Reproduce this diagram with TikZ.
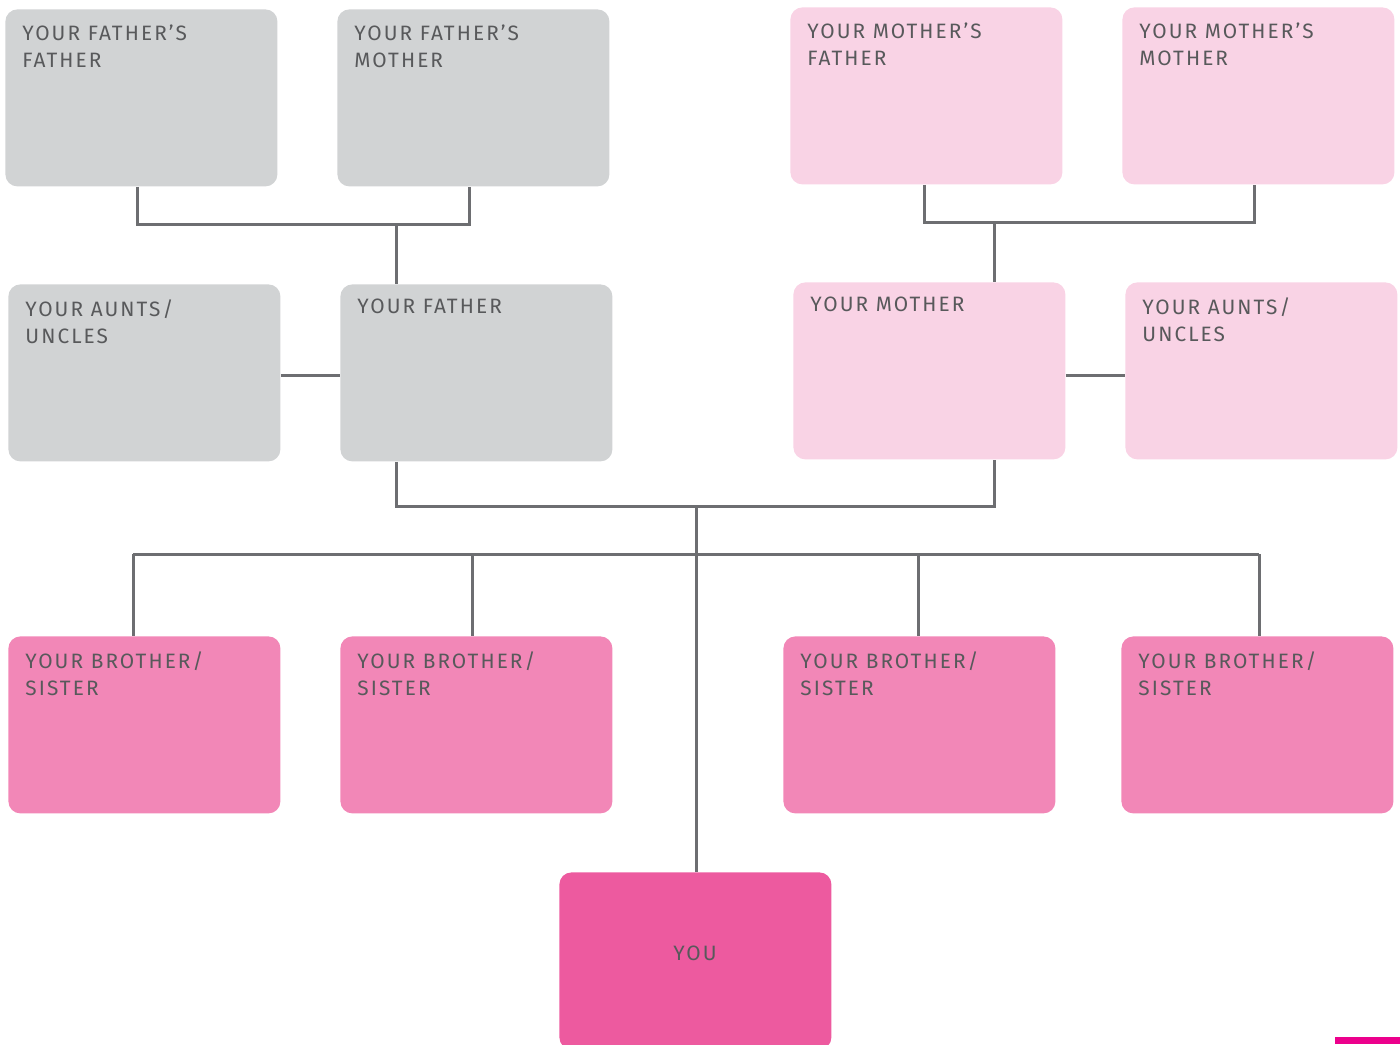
\documentclass[tikz,border=0pt]{standalone}
\usepackage{fontspec}
\setmainfont{Fira Sans}[LetterSpace=10]
\usepackage{tikz}

\definecolor{boxgrey}{HTML}{D1D3D4}
\definecolor{boxlight}{HTML}{F9D3E5}
\definecolor{boxmid}{HTML}{F287B7}
\definecolor{boxyou}{HTML}{ED5A9F}
\definecolor{barpink}{HTML}{EC008C}
\definecolor{linegrey}{HTML}{6D6E71}
\definecolor{textgrey}{HTML}{58595B}

\begin{document}
\begin{tikzpicture}[x=0.5pt,y=-0.5pt,
    famcard/.style={rectangle,rounded corners=6pt,minimum width=136pt,minimum height=88.5pt,anchor=north west,inner sep=0pt},
    greycard/.style={famcard,fill=boxgrey},
    lightcard/.style={famcard,fill=boxlight},
    midcard/.style={famcard,fill=boxmid},
    youcard/.style={famcard,fill=boxyou},
    lbl/.style={anchor=north west,inner sep=0pt,align=left,text=textgrey,font=\fontsize{10.4}{13.5}\selectfont},
    link/.style={draw=linegrey,line width=1.5pt}]
    \useasboundingbox (0,0) rectangle (1400,1044);
    \clip (0,0) rectangle (1400,1044);
    %grandparents
    \node[greycard] (ff) at (5,9) {};
    \node[greycard] (fm) at (337,9) {};
    \node[lightcard] (mf) at (790,7) {};
    \node[lightcard] (mm) at (1122,7) {};
    \node[lbl] (ff-t) at ([shift={(17,15)}]ff.north west) {YOUR FATHER’S\\FATHER};
    \node[lbl] (fm-t) at ([shift={(17,15)}]fm.north west) {YOUR FATHER’S\\MOTHER};
    \node[lbl] (mf-t) at ([shift={(17,15)}]mf.north west) {YOUR MOTHER’S\\FATHER};
    \node[lbl] (mm-t) at ([shift={(17,15)}]mm.north west) {YOUR MOTHER’S\\MOTHER};
    %parents and aunts/uncles
    \node[greycard] (au1) at (8,284) {};
    \node[greycard] (fa) at (340,284) {};
    \node[lightcard] (mo) at (793,282) {};
    \node[lightcard] (au2) at (1125,282) {};
    \node[lbl] (au1-t) at ([shift={(17,15)}]au1.north west) {YOUR AUNTS/\\UNCLES};
    \node[lbl] (fa-t) at ([shift={(17,15)}]fa.north west) {YOUR FATHER};
    \node[lbl] (mo-t) at ([shift={(17,15)}]mo.north west) {YOUR MOTHER};
    \node[lbl] (au2-t) at ([shift={(17,15)}]au2.north west) {YOUR AUNTS/\\UNCLES};
    %brothers and sisters
    \node[midcard] (s1) at (8,636) {};
    \node[midcard] (s2) at (340,636) {};
    \node[midcard] (s3) at (783,636) {};
    \node[midcard] (s4) at (1121,636) {};
    \foreach \n in {s1,s2,s3,s4}
        \node[lbl] (\n-t) at ([shift={(17,15)}]\n.north west) {YOUR BROTHER/\\SISTER};
    \node[youcard] (you) at (559,872) {};
    \node[lbl,anchor=center] (you-t) at (695,953) {YOU};
    %joints
    \coordinate (fj) at (396,224);
    \coordinate (mj) at (994,222);
    \coordinate (pj) at (696,506);
    \coordinate (sb1) at (133,554);
    \coordinate (sb2) at (472,554);
    \coordinate (sb3) at (918,554);
    \coordinate (sb4) at (1259,554);
    \draw[link] ([xshift=-2]ff.south) |- (fj) -| ([xshift=-2]fm.south);
    \draw[link] (fj) -- (fj |- fa.north);
    \draw[link] ([xshift=-1]mf.south) |- (mj) -| ([xshift=-2]mm.south);
    \draw[link] (mj) -- (mj |- mo.north);
    \draw[link] (au1.east |- 0,375) -- (fa.west |- 0,375);
    \draw[link] (mo.east |- 0,375) -- (au2.west |- 0,375);
    \draw[link] (fa.south -| fj) |- (pj) -| (mo.south -| mj);
    \draw[link] (pj) -- (you.north -| pj);
    \draw[link] (sb1) -- (sb4);
    \foreach \n in {1,2,3,4}
        \draw[link] (sb\n) -- (sb\n |- s\n.north);
    \fill[barpink] (1335,1037) rectangle (1400,1044);
\end{tikzpicture}
\end{document}
